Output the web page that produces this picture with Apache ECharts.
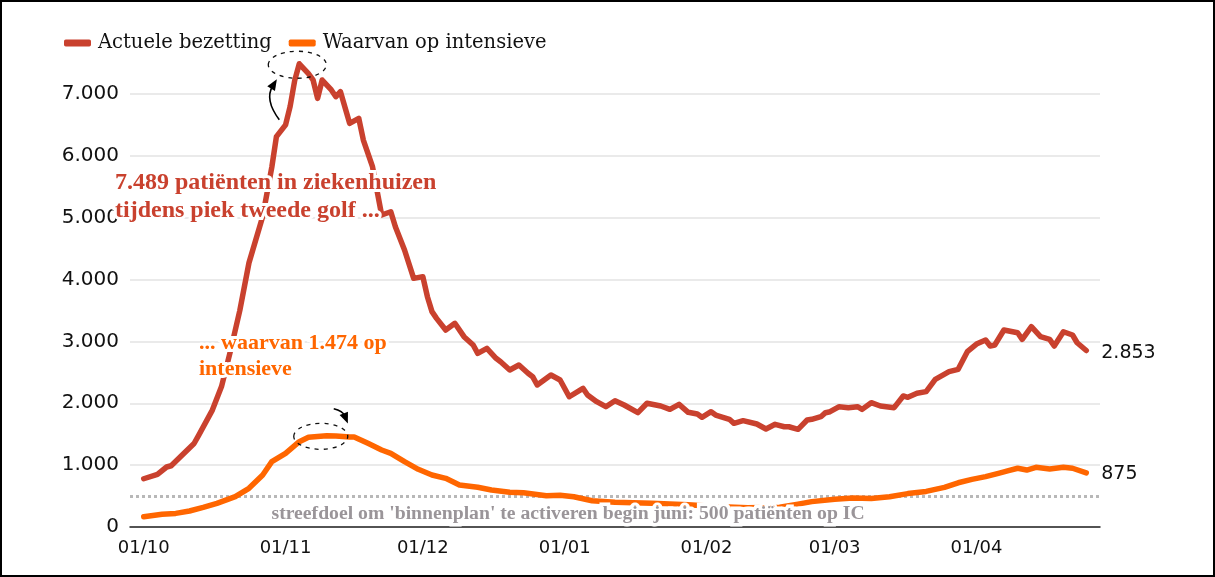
<!DOCTYPE html>
<html>
<head>
<meta charset="utf-8">
<script src="https://cdn.jsdelivr.net/npm/echarts@6/dist/echarts.min.js"></script>
<style>
html,body{margin:0;padding:0;background:#fff;}
#frame{width:1215px;height:577px;box-sizing:border-box;border:2px solid #000;position:relative;overflow:hidden;}
#chart{position:absolute;left:-2px;top:-2px;width:1215px;height:577px;}
</style>
</head>
<body>
<div id="frame"><div id="chart"></div></div>
<script>
// ---- data ----
const hospDates = ['2020-10-01','2020-10-04','2020-10-06','2020-10-07','2020-10-12','2020-10-13','2020-10-16','2020-10-18','2020-10-20','2020-10-22','2020-10-24','2020-10-27','2020-10-29','2020-10-30','2020-11-01','2020-11-02','2020-11-03','2020-11-04','2020-11-06','2020-11-07','2020-11-08','2020-11-09','2020-11-11','2020-11-12','2020-11-13','2020-11-15','2020-11-17','2020-11-18','2020-11-20','2020-11-22','2020-11-24','2020-11-25','2020-11-27','2020-11-29','2020-12-01','2020-12-02','2020-12-03','2020-12-04','2020-12-06','2020-12-08','2020-12-10','2020-12-12','2020-12-13','2020-12-15','2020-12-17','2020-12-18','2020-12-20','2020-12-22','2020-12-24','2020-12-25','2020-12-26','2020-12-29','2020-12-31','2021-01-02','2021-01-05','2021-01-06','2021-01-08','2021-01-10','2021-01-12','2021-01-14','2021-01-17','2021-01-19','2021-01-22','2021-01-24','2021-01-26','2021-01-28','2021-01-30','2021-01-31','2021-02-02','2021-02-03','2021-02-06','2021-02-07','2021-02-09','2021-02-12','2021-02-14','2021-02-16','2021-02-18','2021-02-19','2021-02-21','2021-02-23','2021-02-24','2021-02-26','2021-02-27','2021-02-28','2021-03-02','2021-03-04','2021-03-06','2021-03-07','2021-03-09','2021-03-11','2021-03-14','2021-03-16','2021-03-17','2021-03-19','2021-03-21','2021-03-23','2021-03-26','2021-03-28','2021-03-30','2021-04-01','2021-04-03','2021-04-04','2021-04-05','2021-04-07','2021-04-10','2021-04-11','2021-04-13','2021-04-15','2021-04-17','2021-04-18','2021-04-20','2021-04-22','2021-04-23','2021-04-25'];
const hospValues = [780,850,970,990,1350,1480,1890,2270,2860,3500,4270,5020,5820,6310,6500,6800,7220,7489,7330,7230,6930,7226,7065,6956,7037,6526,6607,6256,5825,5044,5097,4854,4478,4020,4047,3723,3481,3373,3185,3293,3077,2942,2808,2889,2727,2672,2538,2619,2485,2430,2296,2457,2376,2106,2242,2134,2026,1945,2042,1972,1848,2000,1956,1902,1983,1854,1827,1773,1864,1810,1741,1676,1719,1665,1584,1660,1621,1621,1579,1730,1741,1783,1848,1864,1945,1929,1945,1902,2010,1956,1929,2118,2096,2161,2188,2388,2511,2549,2834,2958,3023,2926,2942,3185,3141,3034,3238,3077,3034,2926,3157,3104,2979,2853];

const icuDates = ['2020-10-01','2020-10-05','2020-10-08','2020-10-11','2020-10-14','2020-10-17','2020-10-21','2020-10-24','2020-10-27','2020-10-29','2020-11-01','2020-11-04','2020-11-06','2020-11-10','2020-11-12','2020-11-15','2020-11-16','2020-11-19','2020-11-22','2020-11-24','2020-11-27','2020-11-30','2020-12-03','2020-12-06','2020-12-09','2020-12-13','2020-12-16','2020-12-20','2020-12-23','2020-12-28','2020-12-31','2021-01-03','2021-01-07','2021-01-12','2021-01-20','2021-01-28','2021-02-03','2021-02-10','2021-02-17','2021-02-21','2021-02-24','2021-03-01','2021-03-05','2021-03-09','2021-03-13','2021-03-17','2021-03-21','2021-03-25','2021-03-28','2021-03-31','2021-04-03','2021-04-06','2021-04-08','2021-04-10','2021-04-12','2021-04-14','2021-04-17','2021-04-20','2021-04-22','2021-04-25'];
const icuValues = [165,205,220,259,318,383,490,625,841,1056,1191,1379,1450,1474,1470,1455,1455,1353,1245,1191,1056,933,841,787,679,642,598,561,555,505,515,490,425,400,385,360,330,310,320,370,410,450,470,460,490,540,575,640,715,770,815,870,910,950,921,965,938,965,950,875];

const seriesNames = ['Actuele bezetting', 'Waarvan op intensieve'];
const monthTicks = ['2020-10-01','2020-11-01','2020-12-01','2021-01-01','2021-02-01','2021-03-01','2021-04-01'];
const yTicks = [0,1000,2000,3000,4000,5000,6000,7000];
const targetValue = 500;
const axisStart = '2020-09-28';
const axisEnd = '2021-04-28';

const redText = ['7.489 patiënten in ziekenhuizen', 'tijdens piek tweede golf ...'];
const orangeText = ['... waarvan 1.474 op', 'intensieve'];
const targetText = "streefdoel om 'binnenplan' te activeren begin juni: 500 patiënten op IC";

// ---- helpers ----
function toTime(s){ const p = s.split('-').map(Number); return new Date(p[0], p[1]-1, p[2]).getTime(); }
function fmt(v){ return String(v).replace(/\B(?=(\d{3})+(?!\d))/g, '.'); }
function pad(n){ return (n<10?'0':'')+n; }

const RED = '#c9412e';
const ORANGE = '#ff6600';
const SERIF = '"Liberation Serif", serif';
const DSERIF = '"DejaVu Serif", serif';
const SANS = '"DejaVu Sans", sans-serif';

const hospData = hospDates.map((d,i)=>[toTime(d), hospValues[i]]);
const icuData = icuDates.map((d,i)=>[toTime(d), icuValues[i]]);

const chart = echarts.init(document.getElementById('chart'), null, {renderer:'canvas'});

chart.setOption({
  animation:false,
  backgroundColor:'#fff',
  legend:{
    left:59, top:28,
    icon:'roundRect', itemWidth:27, itemHeight:7, itemGap:17,
    textStyle:{fontFamily:DSERIF, fontSize:19.5, color:'#111', padding:[0,0,0,2]},
    data:seriesNames
  },
  grid:{left:130, right:115, top:94, bottom:50, containLabel:false},
  xAxis:{
    type:'value',
    min:toTime(axisStart), max:toTime(axisEnd),
    axisLine:{show:true, onZero:false, lineStyle:{color:'#222', width:1.5}},
    axisTick:{show:false},
    splitLine:{show:false},
    axisLabel:{
      customValues: monthTicks.map(toTime),
      margin:12,
      fontFamily:SANS, fontSize:18, color:'#111',
      formatter:function(v){ const d = new Date(v); return pad(d.getDate())+'/'+pad(d.getMonth()+1); }
    }
  },
  yAxis:{
    type:'value', min:yTicks[0], max:yTicks[yTicks.length-1], interval:1000,
    axisLine:{show:false}, axisTick:{show:false},
    splitLine:{show:true, lineStyle:{color:'#e3e3e3', width:1.5}},
    axisLabel:{margin:11, fontFamily:SANS, fontSize:20, color:'#111', formatter:function(v){ return v===0?'0':fmt(v); }}
  },
  series:[
    {
      name:seriesNames[0], type:'line', data:hospData, showSymbol:false, clip:false,
      lineStyle:{color:RED, width:5.5, cap:'round', join:'round'}, itemStyle:{color:RED},
      z:3,
      endLabel:{show:true, formatter:function(p){ return fmt(p.value[1]); }, distance:15, offset:[0,3], fontFamily:SANS, fontSize:19, color:'#111'}
    },
    {
      name:seriesNames[1], type:'line', data:icuData, showSymbol:false, clip:false,
      lineStyle:{color:ORANGE, width:5.5, cap:'round', join:'round'}, itemStyle:{color:ORANGE},
      z:3,
      endLabel:{show:true, formatter:function(p){ return fmt(p.value[1]); }, distance:15, offset:[0,1], fontFamily:SANS, fontSize:19, color:'#111'},
      markLine:{
        silent:true, symbol:['none','none'], z:2,
        lineStyle:{color:'#b8b8b8', type:[3,3], width:3},
        label:{show:false},
        data:[{yAxis:targetValue}]
      }
    }
  ]
});

// ---- annotations anchored on the peaks ----
function peakOf(dates, vals){ let k=0; vals.forEach((v,i)=>{ if(v>vals[k]) k=i; }); return chart.convertToPixel({xAxisIndex:0,yAxisIndex:0},[toTime(dates[k]), vals[k]]); }
const pr = peakOf(hospDates, hospValues);
const po = peakOf(icuDates, icuValues);

function arrow(x1,y1,cx,cy,x2,y2){
  const dx = x2-cx, dy = y2-cy, L = Math.sqrt(dx*dx+dy*dy), ux = dx/L, uy = dy/L, px = -uy, py = ux;
  const bx = x2 - ux*5, by = y2 - uy*5;
  return [
    {type:'bezierCurve', z:100, shape:{x1:x1,y1:y1,cpx1:cx,cpy1:cy,x2:bx,y2:by}, style:{stroke:'#000', lineWidth:1.6, fill:null}},
    {type:'polygon', z:100, shape:{points:[[x2+ux*3,y2+uy*3],[bx-ux*3+px*4.5,by-uy*3+py*4.5],[bx-ux*3-px*4.5,by-uy*3-py*4.5]]}, style:{fill:'#000'}}
  ];
}

function txt(x, y, s, color, font, halo){
  return {type:'text', z:101, left:x, top:y, style:{text:s, fill:color, font:font, stroke:'#fff', lineWidth:halo}};
}
const g = [];
g.push({type:'ellipse', z:100, shape:{cx:pr[0]-2, cy:pr[1]+1, rx:29, ry:13.5}, style:{fill:null, stroke:'#111', lineWidth:1.3, lineDash:[4,5]}});
g.push(...arrow(pr[0]-20, pr[1]+56, pr[0]-35, pr[1]+36, pr[0]-24, pr[1]+18));
g.push({type:'ellipse', z:100, shape:{cx:po[0]-6, cy:po[1]+0.5, rx:27, ry:13}, style:{fill:null, stroke:'#111', lineWidth:1.3, lineDash:[4,5]}});
g.push(...arrow(po[0]+7, po[1]-27, po[0]+16, po[1]-25, po[0]+20, po[1]-15));
g.push(txt(112, 168, redText[0], RED, 'bold 24px '+SERIF, 6));
g.push(txt(112, 196, redText[1], RED, 'bold 24px '+SERIF, 6));
g.push(txt(196, 329, orangeText[0], ORANGE, 'bold 22px '+SERIF, 6));
g.push(txt(196, 355, orangeText[1], ORANGE, 'bold 22px '+SERIF, 6));
g.push(txt(268, 500, targetText, '#9a9599', 'bold 19.7px '+SERIF, 7));
chart.setOption({graphic:g});
</script>
</body>
</html>
